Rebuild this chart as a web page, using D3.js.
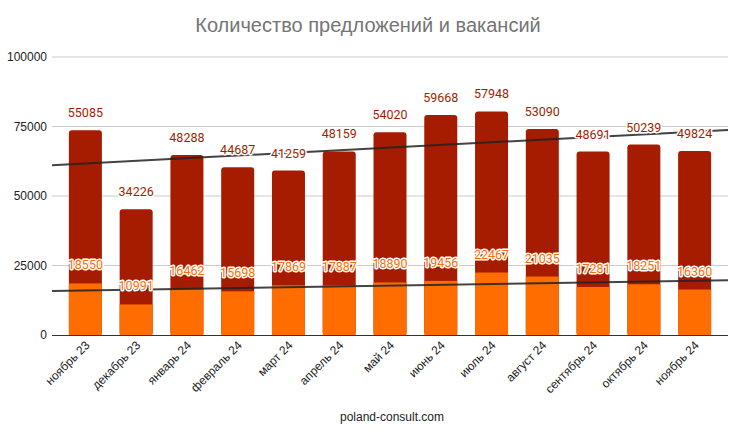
<!DOCTYPE html>
<html>
<head>
<meta charset="utf-8">
<script src="https://cdn.jsdelivr.net/npm/d3@7"></script>
<style>
  body { margin: 0; background: #fff; }
  svg text { font-family: Roboto, "Liberation Sans", Arial, sans-serif; }
</style>
</head>
<body>
<div id="chart"></div>
<script>
// data
var months = ["ноябрь 23", "декабрь 23", "январь 24", "февраль 24", "март 24", "апрель 24",
  "май 24", "июнь 24", "июль 24", "август 24", "сентябрь 24", "октябрь 24", "ноябрь 24"];
var lowerValues = [18550, 10991, 16462, 15698, 17869, 17887, 18890, 19456, 22467, 21035, 17281, 18251, 16360];
var upperValues = [55085, 34226, 48288, 44687, 41259, 48159, 54020, 59668, 57948, 53090, 48691, 50239, 49824];
var yTicks = [0, 25000, 50000, 75000, 100000];

var svgWidth = 749, svgHeight = 440;
var plotLeft = 52, plotRight = 728, plotTop = 57, plotBottom = 335;

var svg = d3.select("#chart").append("svg")
  .attr("width", svgWidth)
  .attr("height", svgHeight);

var xScale = d3.scaleBand()
  .domain(months)
  .range([60, 720])
  .paddingInner(0.35)
  .paddingOuter(0.175);

var yScale = d3.scaleLinear()
  .domain([0, 100000])
  .range([plotBottom, plotTop]);

// title
svg.append("text")
  .attr("x", 368)
  .attr("y", 32)
  .attr("text-anchor", "middle")
  .attr("font-size", "20px")
  .attr("fill", "#757575")
  .style("font-family", "'Liberation Sans', Arial, sans-serif")
  .text("Количество предложений и вакансий");

// gridlines
svg.append("g")
  .selectAll("line")
  .data(yTicks.filter(d => d > 0))
  .enter()
  .append("line")
  .attr("x1", plotLeft)
  .attr("x2", plotRight)
  .attr("y1", d => yScale(d))
  .attr("y2", d => yScale(d))
  .attr("stroke", "#cccccc")
  .attr("stroke-width", 1);

// y axis labels
var yAxis = d3.axisLeft(yScale).tickValues(yTicks).tickFormat(d3.format("d")).tickSize(0).tickPadding(5);
var yAxisG = svg.append("g")
  .attr("transform", `translate(${plotLeft}, 0)`)
  .call(yAxis);
yAxisG.select(".domain").remove();
yAxisG.selectAll("text")
  .attr("font-size", "12px")
  .attr("fill", "#222")
  .style("font-family", "'Liberation Sans', Arial, sans-serif");

// bars
var bars = svg.append("g");
months.forEach(function(m, i) {
  var total = lowerValues[i] + upperValues[i];
  bars.append("rect")
    .attr("x", xScale(m))
    .attr("y", yScale(total))
    .attr("width", xScale.bandwidth())
    .attr("height", yScale(0) - yScale(total))
    .attr("rx", 3)
    .attr("fill", "#a61c00");
  bars.append("rect")
    .attr("x", xScale(m))
    .attr("y", yScale(lowerValues[i]))
    .attr("width", xScale.bandwidth())
    .attr("height", yScale(0) - yScale(lowerValues[i]))
    .attr("fill", "#ff6d01");
});

// baseline
svg.append("line")
  .attr("x1", plotLeft)
  .attr("x2", plotRight)
  .attr("y1", yScale(0) + 0.5)
  .attr("y2", yScale(0) + 0.5)
  .attr("stroke", "#333")
  .attr("stroke-width", 1.2);

// linear trendlines (least squares over index)
function trend(values) {
  var n = values.length;
  var mx = (n - 1) / 2;
  var my = d3.mean(values);
  var sxy = 0, sxx = 0;
  values.forEach(function(v, i) { sxy += (i - mx) * (v - my); sxx += (i - mx) * (i - mx); });
  var slope = sxy / sxx;
  return function(i) { return my + slope * (i - mx); };
}
var step = xScale.step();
var x0 = xScale(months[0]) + xScale.bandwidth() / 2;
function idxAt(px) { return (px - x0) / step; }

var totals = lowerValues.map((v, i) => v + upperValues[i]);
[totals, lowerValues].forEach(function(vals) {
  var f = trend(vals);
  svg.append("line")
    .attr("x1", plotLeft)
    .attr("x2", plotRight)
    .attr("y1", yScale(f(idxAt(plotLeft))))
    .attr("y2", yScale(f(idxAt(plotRight))))
    .attr("stroke", "#222")
    .attr("stroke-opacity", 0.85)
    .attr("stroke-width", 2);
});

// value labels
var labels = svg.append("g");
months.forEach(function(m, i) {
  var cx = xScale(m) + xScale.bandwidth() / 2;
  var total = lowerValues[i] + upperValues[i];
  labels.append("text")
    .attr("x", cx)
    .attr("y", yScale(total) - 13)
    .attr("text-anchor", "middle")
    .attr("font-size", "12.5px")
    .attr("fill", "#a61c00")
    .attr("stroke", "#fff")
    .attr("stroke-width", 3)
    .attr("stroke-linejoin", "round")
    .style("paint-order", "stroke")
    .text(upperValues[i]);
  labels.append("text")
    .attr("x", cx)
    .attr("y", yScale(lowerValues[i]) - 14)
    .attr("text-anchor", "middle")
    .attr("font-size", "12.5px")
    .attr("fill", "#ff6d01")
    .attr("stroke", "#fff")
    .attr("stroke-width", 3)
    .attr("stroke-linejoin", "round")
    .style("paint-order", "stroke")
    .text(lowerValues[i]);
});

// x axis labels
var xLabels = svg.append("g");
months.forEach(function(m) {
  var cx = xScale(m) + xScale.bandwidth() / 2 + 5;
  xLabels.append("text")
    .attr("transform", `translate(${cx}, 346) rotate(-45)`)
    .attr("text-anchor", "end")
    .attr("font-size", "12px")
    .attr("fill", "#222")
    .style("font-family", "'Liberation Sans', Arial, sans-serif")
    .text(m);
});

// footer
svg.append("text")
  .attr("x", 392)
  .attr("y", 421)
  .attr("text-anchor", "middle")
  .attr("font-size", "12px")
  .attr("fill", "#222")
  .style("font-family", "'Liberation Sans', Arial, sans-serif")
  .text("poland-consult.com");
</script>
</body>
</html>
